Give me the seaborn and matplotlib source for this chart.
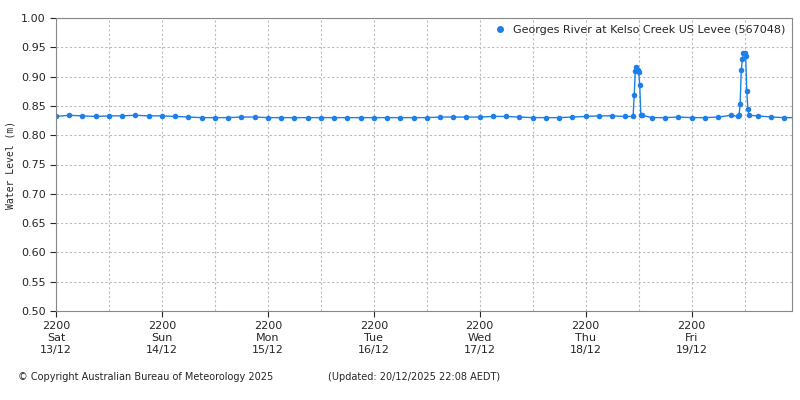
import pandas as pd
import numpy as np
import matplotlib
matplotlib.use('Agg')
import matplotlib.pyplot as plt
import seaborn as sns

sns.set_style('white')
plt.rcParams['font.family'] = ['DejaVu Sans']

# 3-hourly base readings from 13/12 22:00 (m)
base_start = '2025-12-13 22:00'
base_levels = [0.832, 0.834, 0.833, 0.832, 0.833, 0.833, 0.834, 0.833,
               0.833, 0.832, 0.831, 0.830, 0.830, 0.830, 0.831, 0.831,
               0.830, 0.830, 0.830, 0.830, 0.830, 0.830, 0.830, 0.830,
               0.830, 0.830, 0.830, 0.830, 0.830, 0.831, 0.831, 0.831,
               0.831, 0.832, 0.832, 0.831, 0.830, 0.830, 0.830, 0.831,
               0.832, 0.833, 0.833, 0.832, 0.831, 0.830, 0.830, 0.831,
               0.830, 0.830, 0.831, 0.834, 0.834, 0.833, 0.831, 0.830,
               0.830, 0.830, 0.831, 0.833, 0.833, 0.832, 0.832, 0.831,
               0.829]

# tidal spikes (time, level)
spike_times = ['2025-12-19 08:45', '2025-12-19 09:00', '2025-12-19 09:15',
               '2025-12-19 09:30', '2025-12-19 09:45', '2025-12-19 10:00',
               '2025-12-19 10:15', '2025-12-19 10:30', '2025-12-19 10:45',
               '2025-12-20 08:30', '2025-12-20 08:45', '2025-12-20 09:00',
               '2025-12-20 09:15', '2025-12-20 09:30', '2025-12-20 09:45',
               '2025-12-20 10:00', '2025-12-20 10:15', '2025-12-20 10:30',
               '2025-12-20 10:45', '2025-12-20 11:00']
spike_levels = [0.832, 0.869, 0.910, 0.917, 0.912, 0.908, 0.886, 0.835, 0.834,
                0.832, 0.835, 0.853, 0.911, 0.930, 0.940, 0.941, 0.936, 0.875,
                0.845, 0.834]

base = pd.DataFrame({'time': pd.date_range(base_start, periods=len(base_levels), freq='3h'),
                     'level': base_levels})
spk = pd.DataFrame({'time': pd.to_datetime(spike_times), 'level': spike_levels})
mask = ~(((base.time > '2025-12-19 08:30') & (base.time < '2025-12-19 11:00')) |
         ((base.time > '2025-12-20 08:15') & (base.time < '2025-12-20 11:15')))
df = pd.concat([base[mask], spk]).sort_values('time')

blue = '#1f7fe8'
fig = plt.figure(figsize=(8, 4), dpi=100)
ax = fig.add_axes([0.07, 0.2225, 0.92, 0.7325])
sns.lineplot(data=df, x='time', y='level', ax=ax, color=blue, lw=1,
             marker='o', markersize=4, markeredgewidth=0, label=None)
ax.plot([], [], 'o', color=blue, markersize=4, label='Georges River at Kelso Creek US Levee (567048)')

t0 = pd.Timestamp('2025-12-13 22:00')
days = ['Sat', 'Sun', 'Mon', 'Tue', 'Wed', 'Thu', 'Fri']
major = [t0 + pd.Timedelta(days=i) for i in range(7)]
minor = [t0 + pd.Timedelta(hours=12 + 24 * i) for i in range(7)]
ax.set_xticks(major)
ax.set_xticklabels([f'2200\n{d}\n{t.strftime("%d/%m")}' for d, t in zip(days, major)], fontsize=8)
ax.set_xticks(minor, minor=True)
ax.set_xlim(t0, pd.Timestamp('2025-12-20 20:45'))
ax.set_ylim(0.5, 1.0)
ax.set_yticks(np.arange(0.5, 1.001, 0.05))
ax.set_yticklabels([f'{v:.2f}' for v in np.arange(0.5, 1.001, 0.05)], fontsize=8)
ax.grid(True, which='both', ls=(0, (2, 2)), color='#bbbbbb', lw=0.8)
ax.tick_params(axis='both', which='major', length=4, direction='out', bottom=True, left=True)
ax.set_xlabel('')
ax.set_ylabel('Water Level (m)', fontsize=7, family='DejaVu Sans Mono')
for s in ax.spines.values():
    s.set_color('#888888')
ax.legend(loc='upper right', frameon=False, fontsize=8, handletextpad=0.2, borderaxespad=0.2)

fig.text(0.022, 0.05, '© Copyright Australian Bureau of Meteorology 2025', fontsize=7)
fig.text(0.41, 0.05, '(Updated: 20/12/2025 22:08 AEDT)', fontsize=7)
fig.savefig('out.png', dpi=100)
